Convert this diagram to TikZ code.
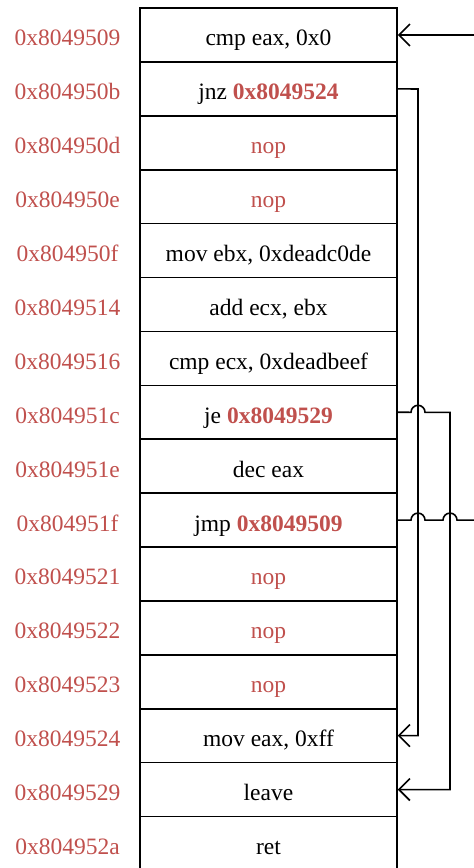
\documentclass[tikz,border=0pt]{standalone}
\usepackage{fontspec}
\setmainfont{Liberation Serif}
\usetikzlibrary{arrows.meta}
\definecolor{addr}{HTML}{C0504D}
\begin{document}
\begin{tikzpicture}[x=1pt,y=-1pt,
  rowbox/.style={draw,line width=1.6pt,minimum width=257pt,minimum height=53.9pt,inner sep=0pt,
    text height=22pt,text depth=0pt,font=\fontsize{23.5}{27}\selectfont},
  addrlbl/.style={text=addr,font=\fontsize{23.5}{27}\selectfont,inner sep=0pt,
    text height=22pt,text depth=0pt},
  conn/.style={line width=1.6pt},
  tip/.style={-{Straight Barb[length=11pt,width=22pt,line width=1.6pt]}}]
\useasboundingbox (0,0) rectangle (474,868);
\clip (0,0) rectangle (474,868);
\def\rh{53.9}
\foreach \i/\ad/\ins in {
  1/0x8049509/{cmp eax, 0x0},
  2/0x804950b/{jnz \textcolor{addr}{\bfseries 0x8049524}},
  3/0x804950d/{\textcolor{addr}{nop}},
  4/0x804950e/{\textcolor{addr}{nop}},
  5/0x804950f/{mov ebx, 0xdeadc0de},
  6/0x8049514/{add ecx, ebx},
  7/0x8049516/{cmp ecx, 0xdeadbeef},
  8/0x804951c/{je \textcolor{addr}{\bfseries 0x8049529}},
  9/0x804951e/{dec eax},
  10/0x804951f/{jmp \textcolor{addr}{\bfseries 0x8049509}},
  11/0x8049521/{\textcolor{addr}{nop}},
  12/0x8049522/{\textcolor{addr}{nop}},
  13/0x8049523/{\textcolor{addr}{nop}},
  14/0x8049524/{mov eax, 0xff},
  15/0x8049529/{leave},
  16/0x804952a/{ret}} {
  \node[rowbox] (r\i) at (268.5, {8+(\i-1)*\rh+\rh/2}) {\ins};
  \node[addrlbl] (a\i) at (67.5, {8+(\i-1)*\rh+\rh/2}) {\ad};
}
% jnz -> 0x8049524
\coordinate (jnzA) at (418, 89.0);
\draw[conn,tip] (r2.east) -- (jnzA) -- (jnzA |- r14.east) -- (r14.east);
% je -> 0x8049529
\coordinate (jeA) at (450, 412.3);
\draw[conn,tip] (r8.east) -- (411,412.3) arc[start angle=180,end angle=0,radius=7pt]
  -- (jeA) -- (jeA |- r15.east) -- (r15.east);
% jmp -> 0x8049509
\coordinate (jmpA) at (480, 520.1);
\draw[conn,tip] (r10.east) -- (411,520.1) arc[start angle=180,end angle=0,radius=7pt]
  -- (443,520.1) arc[start angle=180,end angle=0,radius=7pt]
  -- (jmpA) -- (jmpA |- r1.east) -- (r1.east);
\end{tikzpicture}
\end{document}
